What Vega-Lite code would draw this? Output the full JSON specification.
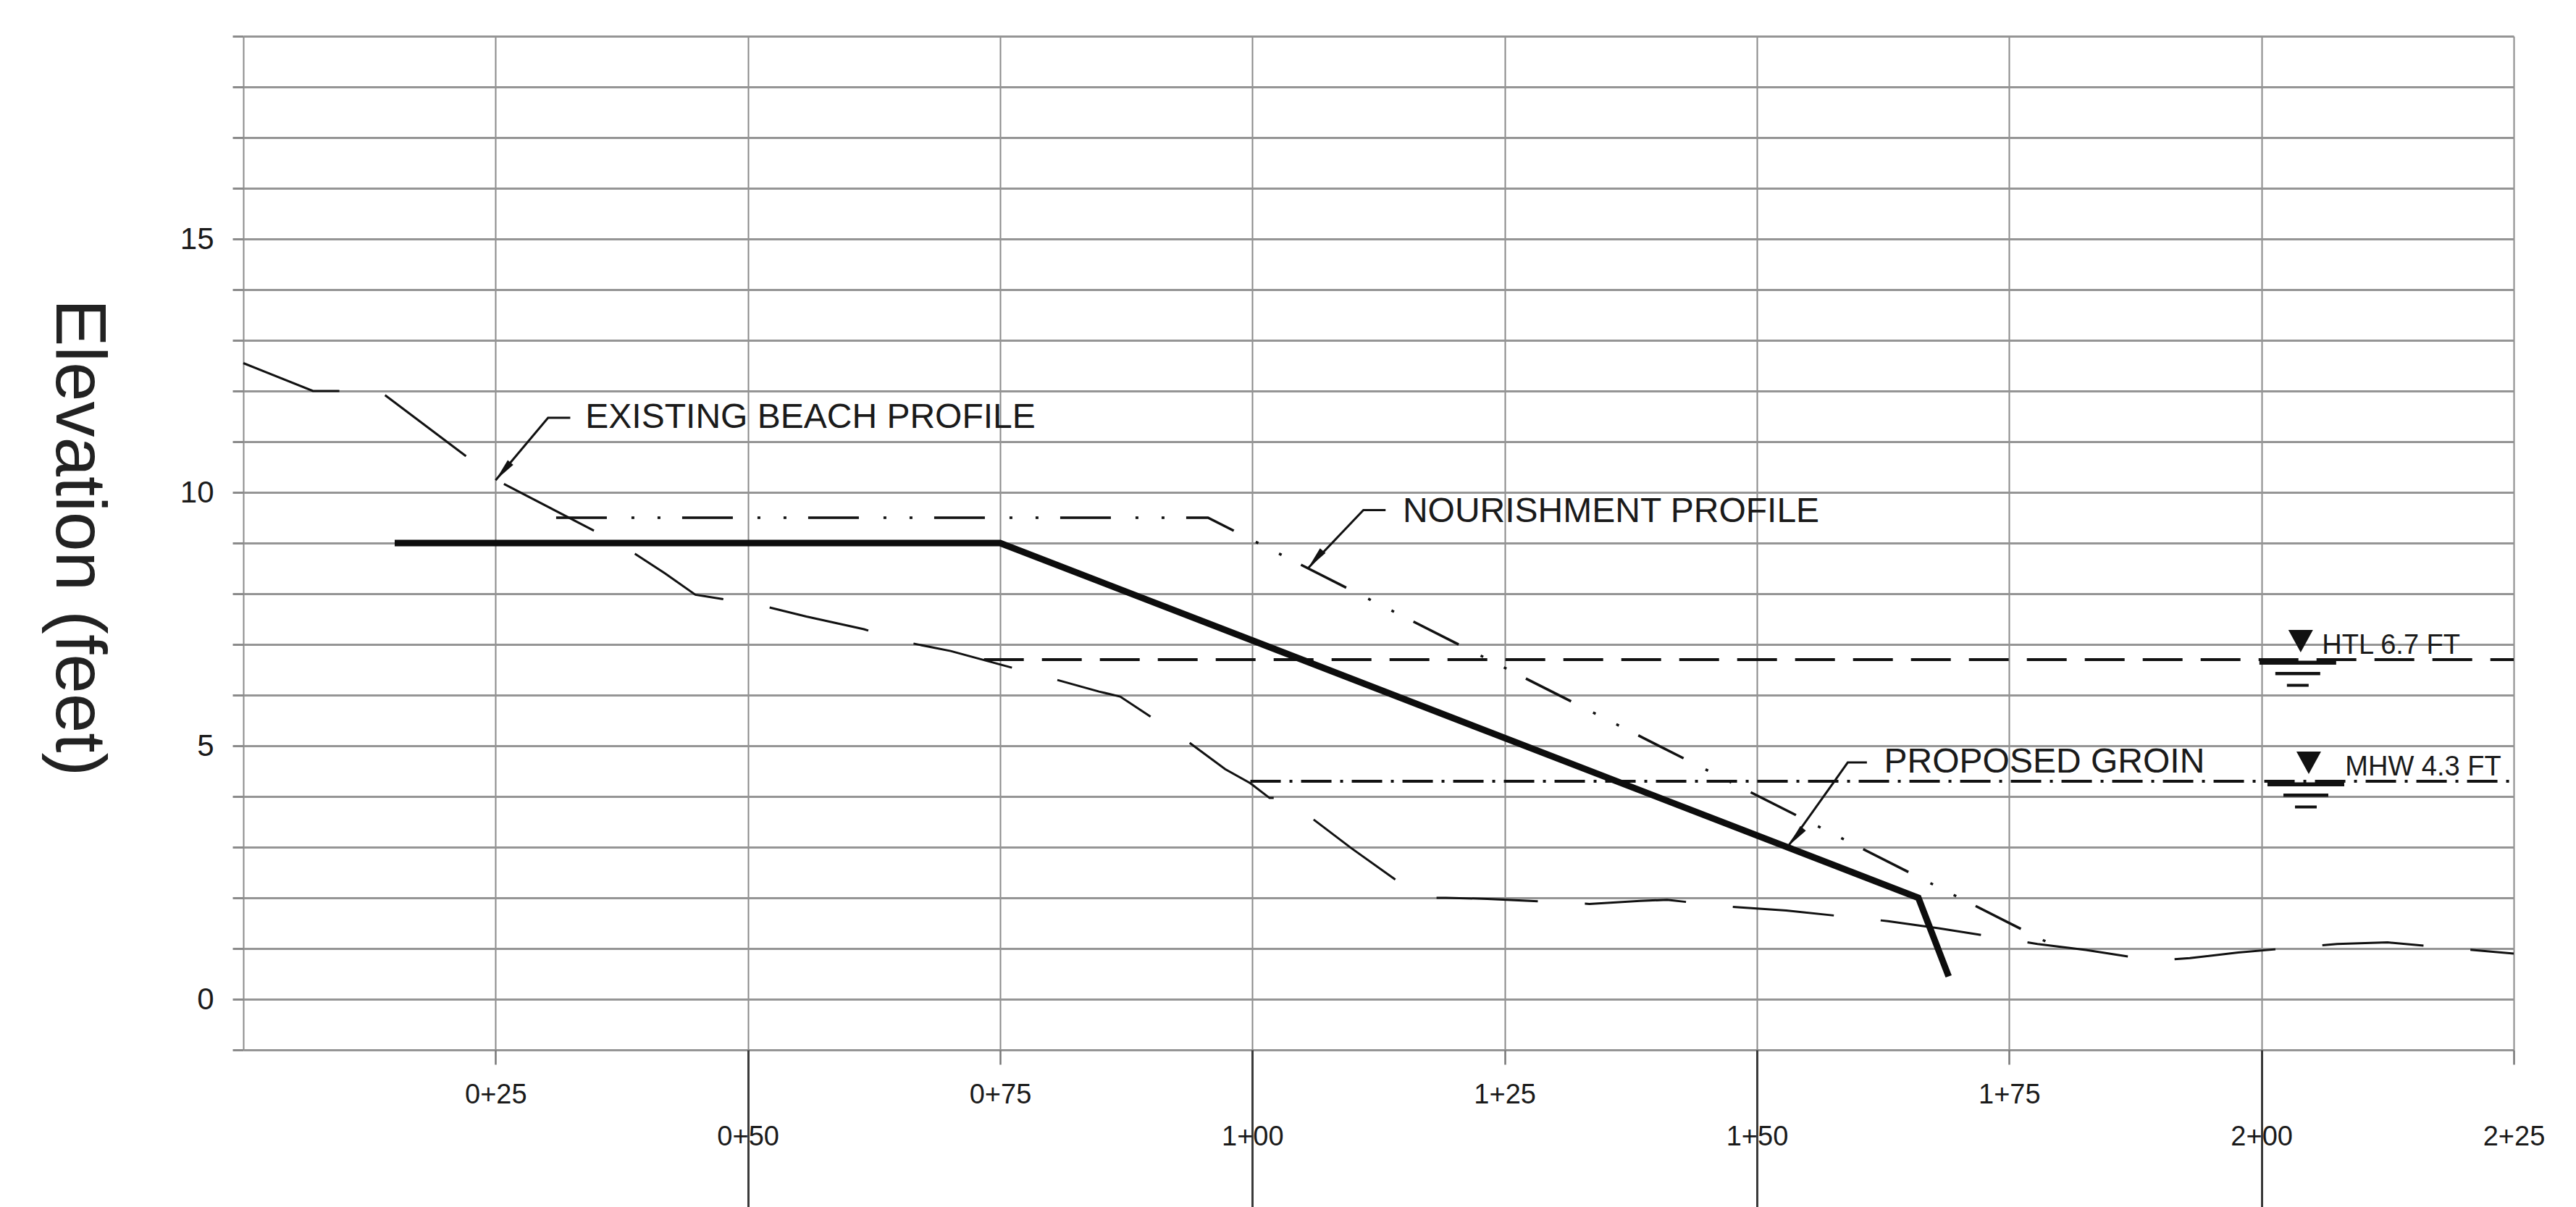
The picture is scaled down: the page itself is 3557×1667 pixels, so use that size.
{
  "$schema": "https://vega.github.io/schema/vega-lite/v6.json",
  "width": 3135,
  "height": 1400,
  "autosize": {"type": "none"},
  "padding": {"left": 336, "top": 50, "right": 86, "bottom": 217},
  "background": "#ffffff",
  "config": {"view": {"stroke": null}, "font": "Liberation Sans"},
  "datasets": {
    "profiles": [
      {"series": "existing", "station": 0, "elev": 12.55},
      {"series": "existing", "station": 6.9, "elev": 12.0},
      {"series": "existing", "station": 13.5, "elev": 12.0},
      {"series": "existing", "station": 25.5, "elev": 10.2},
      {"series": "existing", "station": 37.4, "elev": 8.97},
      {"series": "existing", "station": 41.8, "elev": 8.4},
      {"series": "existing", "station": 44.8, "elev": 7.98},
      {"series": "existing", "station": 51.1, "elev": 7.78},
      {"series": "existing", "station": 55.8, "elev": 7.55},
      {"series": "existing", "station": 61.5, "elev": 7.3},
      {"series": "existing", "station": 65.3, "elev": 7.06},
      {"series": "existing", "station": 70.1, "elev": 6.87},
      {"series": "existing", "station": 79.9, "elev": 6.34},
      {"series": "existing", "station": 84.8, "elev": 6.07},
      {"series": "existing", "station": 86.9, "elev": 5.97},
      {"series": "existing", "station": 93.5, "elev": 5.1},
      {"series": "existing", "station": 97.3, "elev": 4.54},
      {"series": "existing", "station": 99.8, "elev": 4.26},
      {"series": "existing", "station": 101.7, "elev": 3.97},
      {"series": "existing", "station": 103.2, "elev": 3.97},
      {"series": "existing", "station": 105.9, "elev": 3.57},
      {"series": "existing", "station": 109.8, "elev": 2.98},
      {"series": "existing", "station": 116.7, "elev": 2.0},
      {"series": "existing", "station": 119.2, "elev": 2.0},
      {"series": "existing", "station": 123.3, "elev": 1.98},
      {"series": "existing", "station": 133.4, "elev": 1.88},
      {"series": "existing", "station": 138.4, "elev": 1.94},
      {"series": "existing", "station": 141.1, "elev": 1.96},
      {"series": "existing", "station": 147.6, "elev": 1.82},
      {"series": "existing", "station": 152.9, "elev": 1.75},
      {"series": "existing", "station": 163.0, "elev": 1.54},
      {"series": "existing", "station": 168.0, "elev": 1.4},
      {"series": "existing", "station": 177.8, "elev": 1.09},
      {"series": "existing", "station": 182.6, "elev": 0.97},
      {"series": "existing", "station": 189.5, "elev": 0.76},
      {"series": "existing", "station": 192.9, "elev": 0.81},
      {"series": "existing", "station": 197.7, "elev": 0.92},
      {"series": "existing", "station": 207.5, "elev": 1.09},
      {"series": "existing", "station": 212.5, "elev": 1.12},
      {"series": "existing", "station": 225, "elev": 0.9},
      {"series": "nourishment", "station": 31, "elev": 9.5},
      {"series": "nourishment", "station": 95.6, "elev": 9.5},
      {"series": "nourishment", "station": 180, "elev": 1.0},
      {"series": "groin", "station": 15, "elev": 9.0},
      {"series": "groin", "station": 75, "elev": 9.0},
      {"series": "groin", "station": 166, "elev": 2.0},
      {"series": "groin", "station": 169, "elev": 0.45},
      {"series": "htl", "station": 73.4, "elev": 6.7},
      {"series": "htl", "station": 225, "elev": 6.7},
      {"series": "mhw", "station": 99.8, "elev": 4.3},
      {"series": "mhw", "station": 225, "elev": 4.3}
    ],
    "leaders": [
      {"callout": "existing", "seq": 0, "station": 25.0, "elev": 10.24},
      {"callout": "existing", "seq": 1, "station": 30.2, "elev": 11.47},
      {"callout": "existing", "seq": 2, "station": 32.4, "elev": 11.47},
      {"callout": "nourishment", "seq": 0, "station": 105.5, "elev": 8.5},
      {"callout": "nourishment", "seq": 1, "station": 111.0, "elev": 9.65},
      {"callout": "nourishment", "seq": 2, "station": 113.2, "elev": 9.65},
      {"callout": "groin", "seq": 0, "station": 153.1, "elev": 3.02},
      {"callout": "groin", "seq": 1, "station": 159.0, "elev": 4.67},
      {"callout": "groin", "seq": 2, "station": 160.9, "elev": 4.67}
    ],
    "labels": [
      {"kind": "callout", "text": "EXISTING BEACH PROFILE", "station": 33.9, "elev": 11.47},
      {"kind": "callout", "text": "NOURISHMENT PROFILE", "station": 114.9, "elev": 9.62},
      {"kind": "callout", "text": "PROPOSED GROIN", "station": 162.6, "elev": 4.67},
      {"kind": "level", "text": "HTL 6.7 FT", "station": 206.0, "elev": 6.7},
      {"kind": "level", "text": "MHW 4.3 FT", "station": 208.3, "elev": 4.3}
    ],
    "levels": [
      {"name": "HTL", "station": 203.6, "elev": 6.7},
      {"name": "MHW", "station": 204.4, "elev": 4.3}
    ]
  },
  "encoding": {
    "x": {
      "field": "station",
      "type": "quantitative",
      "scale": {"domain": [0, 225], "nice": false, "zero": false},
      "axis": {
        "values": [0, 25, 50, 75, 100, 125, 150, 175, 200, 225],
        "title": null,
        "domain": false,
        "grid": true,
        "gridColor": "#8a8a8a",
        "gridWidth": 2,
        "ticks": true,
        "tickSize": {"condition": {"test": "datum.value % 50 === 0 && datum.value > 0", "value": 220}, "value": 20},
        "tickColor": {"condition": {"test": "datum.value % 50 === 0", "value": "#3a3a3a"}, "value": "#777777"},
        "tickWidth": {"condition": {"test": "datum.value % 50 === 0", "value": 3}, "value": 2.5},
        "tickOpacity": {"condition": {"test": "datum.value === 0", "value": 0}, "value": 1},
        "labelExpr": "datum.value === 0 ? '' : floor(datum.value / 100) + '+' + (datum.value % 100 < 10 ? '0' : '') + (datum.value % 100)",
        "labelFont": "Liberation Sans",
        "labelFontSize": 38,
        "labelColor": "#1a1a1a",
        "labelPadding": {"condition": [{"test": "datum.value === 225", "value": 81}, {"test": "datum.value % 50 === 0", "value": -119}], "value": 23},
        "labelBaseline": "top",
        "labelAlign": "center",
        "labelFlush": false,
        "labelOverlap": false,
        "labelBound": false
      }
    },
    "y": {
      "field": "elev",
      "type": "quantitative",
      "scale": {"domain": [-1, 19], "nice": false, "zero": false},
      "axis": {
        "values": [-1, 0, 1, 2, 3, 4, 5, 6, 7, 8, 9, 10, 11, 12, 13, 14, 15, 16, 17, 18, 19],
        "title": "Elevation (feet)",
        "titleAngle": 90,
        "titleX": -230,
        "titleY": 692,
        "titleAlign": "center",
        "titleBaseline": "middle",
        "titleFont": "Liberation Sans",
        "titleFontSize": 98,
        "titleFontWeight": "normal",
        "titleColor": "#222222",
        "domain": false,
        "grid": true,
        "gridColor": "#959595",
        "gridWidth": 3,
        "tickSize": 15,
        "tickColor": "#8a8a8a",
        "tickWidth": 3,
        "labelExpr": "datum.value % 5 === 0 && datum.value >= 0 ? datum.label : ''",
        "labelFont": "Liberation Sans",
        "labelFontSize": 42,
        "labelColor": "#1a1a1a",
        "labelPadding": 26,
        "labelFlush": false,
        "labelOverlap": false,
        "labelBound": false
      }
    }
  },
  "layer": [
    {
      "data": {"name": "profiles"},
      "transform": [{"filter": "datum.series === 'existing'"}],
      "mark": {"type": "line", "color": "#111111", "strokeWidth": 3, "strokeDash": [140, 65], "strokeCap": "butt", "strokeJoin": "miter"}
    },
    {
      "data": {"name": "profiles"},
      "transform": [{"filter": "datum.series === 'nourishment'"}],
      "mark": {"type": "line", "color": "#111111", "strokeWidth": 3.5, "strokeDash": [70, 34, 4, 32, 4, 30], "strokeCap": "butt"}
    },
    {
      "data": {"name": "profiles"},
      "transform": [{"filter": "datum.series === 'htl'"}],
      "mark": {"type": "line", "color": "#111111", "strokeWidth": 4, "strokeDash": [55, 25], "strokeCap": "butt"}
    },
    {
      "data": {"name": "profiles"},
      "transform": [{"filter": "datum.series === 'mhw'"}],
      "mark": {"type": "line", "color": "#111111", "strokeWidth": 4, "strokeDash": [42, 12, 4, 12], "strokeCap": "butt"}
    },
    {
      "data": {"name": "profiles"},
      "transform": [{"filter": "datum.series === 'groin'"}],
      "mark": {"type": "line", "color": "#0d0d0d", "strokeWidth": 9, "strokeCap": "butt", "strokeJoin": "miter"}
    },
    {
      "data": {"name": "leaders"},
      "mark": {"type": "line", "color": "#111111", "strokeWidth": 3},
      "encoding": {"detail": {"field": "callout"}, "order": {"field": "seq"}}
    },
    {
      "data": {"name": "leaders"},
      "transform": [{"filter": "datum.seq === 0"}],
      "mark": {"type": "point", "shape": "M0,0L0.5,3.2L-0.5,3.2Z", "size": 400, "angle": 220, "filled": true, "color": "#111111", "opacity": 1, "strokeWidth": 0}
    },
    {
      "data": {"name": "levels"},
      "mark": {"type": "point", "shape": "M-1.3,-4.1L2.1,-4.1L0.4,-1Z M-5.3,0.15L5.3,0.15L5.3,0.7L-5.3,0.7Z M-3.1,1.7L3.1,1.7L3.1,2.15L-3.1,2.15Z M-1.5,3.35L1.5,3.35L1.5,3.75L-1.5,3.75Z", "size": 400, "filled": true, "color": "#111111", "opacity": 1, "strokeWidth": 0}
    },
    {
      "data": {"name": "labels"},
      "transform": [{"filter": "datum.kind === 'callout'"}],
      "mark": {"type": "text", "align": "left", "baseline": "middle", "font": "Liberation Sans", "fontSize": 48, "color": "#1a1a1a"},
      "encoding": {"text": {"field": "text"}}
    },
    {
      "data": {"name": "labels"},
      "transform": [{"filter": "datum.kind === 'level'"}],
      "mark": {"type": "text", "align": "left", "baseline": "alphabetic", "dy": -8, "font": "Liberation Sans", "fontSize": 38, "color": "#1a1a1a"},
      "encoding": {"text": {"field": "text"}}
    }
  ]
}
